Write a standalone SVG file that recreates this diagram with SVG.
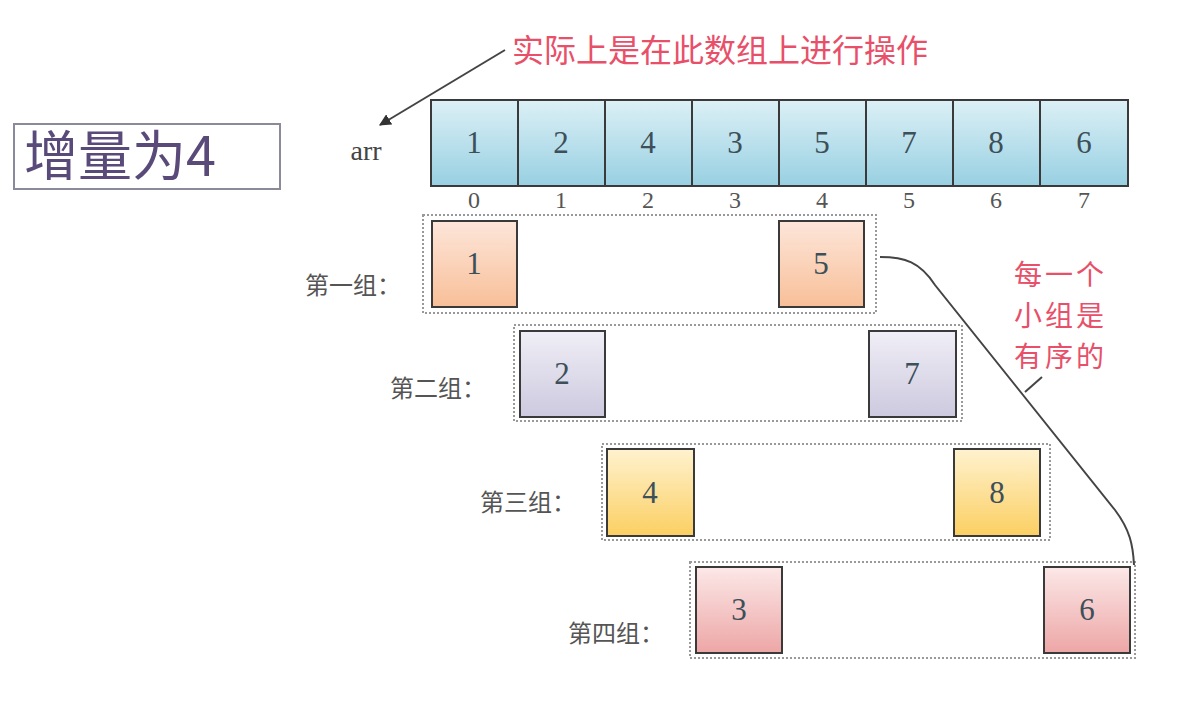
<svg xmlns="http://www.w3.org/2000/svg" width="1198" height="704" viewBox="0 0 1198 704">
<defs>
<linearGradient id="gBlue" x1="0" y1="0" x2="0" y2="1"><stop offset="0" stop-color="#dcf0f6"/><stop offset="1" stop-color="#98d0e2"/></linearGradient>
<linearGradient id="gPeach" x1="0" y1="0" x2="0" y2="1"><stop offset="0" stop-color="#fde6da"/><stop offset="1" stop-color="#f8bf98"/></linearGradient>
<linearGradient id="gLav" x1="0" y1="0" x2="0" y2="1"><stop offset="0" stop-color="#f0eef6"/><stop offset="1" stop-color="#cdc9df"/></linearGradient>
<linearGradient id="gYel" x1="0" y1="0" x2="0" y2="1"><stop offset="0" stop-color="#fff2cf"/><stop offset="1" stop-color="#fbcf62"/></linearGradient>
<linearGradient id="gPink" x1="0" y1="0" x2="0" y2="1"><stop offset="0" stop-color="#fce8e8"/><stop offset="1" stop-color="#eda6a6"/></linearGradient>
<marker id="ah" viewBox="0 0 10 10" refX="9" refY="5" markerWidth="6" markerHeight="6" orient="auto"><path d="M0,0 L10,5 L0,10 z" fill="#333"/></marker>
</defs>
<style>
.cell{stroke:#3a3a3a;stroke-width:2}
.num{font-family:"Liberation Serif","DejaVu Serif",serif;font-size:31px;fill:#3d4f58;text-anchor:middle}
.idx{font-family:"Liberation Serif","DejaVu Serif",serif;font-size:24px;fill:#555;text-anchor:middle}
.grp{fill:none;stroke:#999;stroke-width:2;stroke-dasharray:2 2}
.lbl{font-family:"Noto Sans CJK SC",sans-serif;font-size:24px;fill:#555}
.red{font-family:"Noto Sans CJK SC",serif;font-size:32px;fill:#e8506a}
.red2{font-family:"Noto Sans CJK SC",serif;font-size:28px;fill:#e8506a;letter-spacing:3px}
</style>
<rect width="1198" height="704" fill="#ffffff"/>

<g id="title">
<rect x="14" y="124" width="266" height="65" fill="#fff" stroke="#8a8a9a" stroke-width="2"/>
<text x="24" y="176" font-family="Noto Sans CJK SC,sans-serif" font-size="54" fill="#5a4a7a">增量为4</text>
</g>

<g id="note">
<text x="512" y="62" class="red">实际上是在此数组上进行操作</text>
</g>

<g id="arr-label"><text x="366" y="160" font-family="Liberation Serif,serif" font-size="28" fill="#444" text-anchor="middle">arr</text></g>

<g id="array">
<rect class="cell" x="431" y="100" width="87" height="86" fill="url(#gBlue)"/>
<rect class="cell" x="518" y="100" width="87" height="86" fill="url(#gBlue)"/>
<rect class="cell" x="605" y="100" width="87" height="86" fill="url(#gBlue)"/>
<rect class="cell" x="692" y="100" width="87" height="86" fill="url(#gBlue)"/>
<rect class="cell" x="779" y="100" width="87" height="86" fill="url(#gBlue)"/>
<rect class="cell" x="866" y="100" width="87" height="86" fill="url(#gBlue)"/>
<rect class="cell" x="953" y="100" width="87" height="86" fill="url(#gBlue)"/>
<rect class="cell" x="1040" y="100" width="88" height="86" fill="url(#gBlue)"/>
<text class="num" x="474" y="153">1</text>
<text class="num" x="561" y="153">2</text>
<text class="num" x="648" y="153">4</text>
<text class="num" x="735" y="153">3</text>
<text class="num" x="822" y="153">5</text>
<text class="num" x="909" y="153">7</text>
<text class="num" x="996" y="153">8</text>
<text class="num" x="1084" y="153">6</text>
<text class="idx" x="474" y="208">0</text>
<text class="idx" x="561" y="208">1</text>
<text class="idx" x="648" y="208">2</text>
<text class="idx" x="735" y="208">3</text>
<text class="idx" x="822" y="208">4</text>
<text class="idx" x="909" y="208">5</text>
<text class="idx" x="996" y="208">6</text>
<text class="idx" x="1084" y="208">7</text>
</g>

<g id="group1">
<rect class="grp" x="423" y="215" width="453" height="98"/>
<rect class="cell" x="432" y="221" width="85" height="86" fill="url(#gPeach)"/>
<rect class="cell" x="779" y="221" width="85" height="86" fill="url(#gPeach)"/>
<text class="num" x="474" y="274">1</text>
<text class="num" x="821" y="274">5</text>
<text class="lbl" x="305" y="294">第一组：</text>
</g>

<g id="group2">
<rect class="grp" x="514" y="325" width="448" height="96"/>
<rect class="cell" x="520" y="331" width="85" height="86" fill="url(#gLav)"/>
<rect class="cell" x="869" y="331" width="87" height="86" fill="url(#gLav)"/>
<text class="num" x="562" y="384">2</text>
<text class="num" x="912" y="384">7</text>
<text class="lbl" x="390" y="397">第二组：</text>
</g>

<g id="group3">
<rect class="grp" x="602" y="444" width="448" height="96"/>
<rect class="cell" x="607" y="449" width="87" height="87" fill="url(#gYel)"/>
<rect class="cell" x="954" y="449" width="86" height="87" fill="url(#gYel)"/>
<text class="num" x="650" y="503">4</text>
<text class="num" x="997" y="503">8</text>
<text class="lbl" x="480" y="511">第三组：</text>
</g>

<g id="group4">
<rect class="grp" x="690" y="562" width="445" height="96"/>
<rect class="cell" x="696" y="567" width="86" height="86" fill="url(#gPink)"/>
<rect class="cell" x="1044" y="567" width="86" height="86" fill="url(#gPink)"/>
<text class="num" x="739" y="620">3</text>
<text class="num" x="1087" y="620">6</text>
<text class="lbl" x="568" y="642">第四组：</text>
</g>

<g id="sorted-note">
<text class="red2" x="1014" y="285">每一个</text>
<text class="red2" x="1014" y="326">小组是</text>
<text class="red2" x="1014" y="367">有序的</text>
</g>

<g id="connectors" fill="none" stroke="#444" stroke-width="2">
<path d="M505,50 L380,125" marker-end="url(#ah)"/>
<path d="M880,257 C905,257 920,262 935,285 L1115,510 C1130,530 1133,545 1134,565"/>
<path d="M1025,392 L1042,377"/>
</g>
</svg>
